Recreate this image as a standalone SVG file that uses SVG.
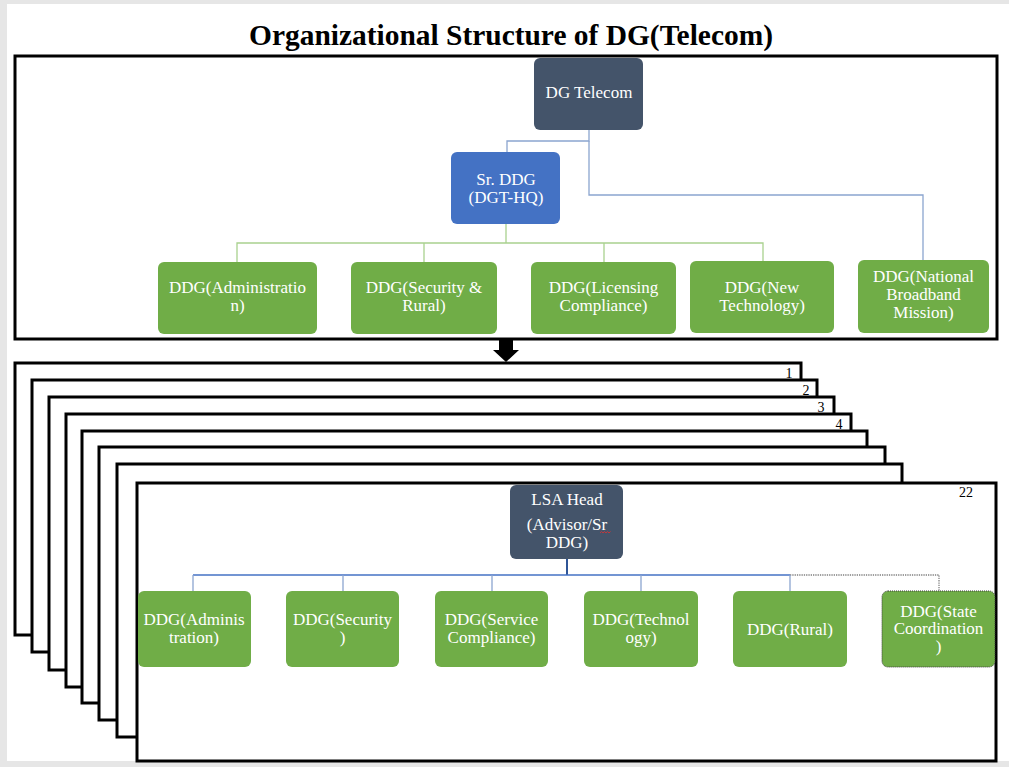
<svg xmlns="http://www.w3.org/2000/svg" width="1009" height="767" viewBox="0 0 1009 767">
<style>
.t{font-family:"Liberation Serif","DejaVu Serif",serif;font-size:17px;fill:#fff;text-anchor:middle}
.n{font-family:"Liberation Serif","DejaVu Serif",serif;font-size:14px;fill:#000;text-anchor:middle}
.frame{fill:#fff;stroke:#000;stroke-width:3}
.dark{fill:#44546A}
.blue{fill:#4472C4}
.green{fill:#70AD47}
.cb{fill:none;stroke:#8BA5CF;stroke-width:1.3}
.cg{fill:none;stroke:#A9D18E;stroke-width:1.3}
</style>
<rect x="0" y="0" width="1009" height="767" fill="#e6e6e6"/>
<rect x="7" y="4" width="1002" height="757" fill="#fff"/>
<text x="511" y="45" font-family="Liberation Serif,serif" font-weight="bold" font-size="30" text-anchor="middle" textLength="524" lengthAdjust="spacingAndGlyphs">Organizational Structure of DG(Telecom)</text>

<rect id="topFrame" class="frame" x="15" y="56" width="982" height="283"/>

<g id="connectors">
<polyline class="cb" points="589,130 589,141 507,141 507,152"/>
<polyline class="cb" points="589,141 589,195 923,195 923,260"/>
<polyline class="cg" points="506,224 506,243"/>
<polyline class="cg" points="237,262 237,243 763,243 763,261"/>
<line class="cg" x1="424" y1="243" x2="424" y2="262"/>
<line class="cg" x1="604" y1="243" x2="604" y2="262"/>
</g>

<g id="dg-telecom"><rect class="dark" x="534" y="58" width="109" height="72" rx="6"/><text class="t" x="589" y="98">DG Telecom</text></g>
<g id="sr-ddg"><rect class="blue" x="451" y="152" width="109" height="72" rx="6"/><text class="t" x="506" y="185">Sr. DDG</text><text class="t" x="506" y="203">(DGT-HQ)</text></g>
<g id="ddg-admin"><rect class="green" x="158" y="262" width="159" height="72" rx="6"/><text class="t" x="237.5" y="293">DDG(Administratio</text><text class="t" x="237.5" y="311">n)</text></g>
<g id="ddg-security-rural"><rect class="green" x="351" y="262" width="146" height="72" rx="6"/><text class="t" x="424" y="293">DDG(Security &amp;</text><text class="t" x="424" y="311">Rural)</text></g>
<g id="ddg-licensing"><rect class="green" x="531" y="262" width="145" height="72" rx="6"/><text class="t" x="603.5" y="293">DDG(Licensing</text><text class="t" x="603.5" y="311">Compliance)</text></g>
<g id="ddg-newtech"><rect class="green" x="690" y="261" width="144" height="72" rx="6"/><text class="t" x="762" y="293">DDG(New</text><text class="t" x="762" y="311">Technology)</text></g>
<g id="ddg-nbm"><rect class="green" x="858" y="260" width="131" height="73" rx="6"/><text class="t" x="923.5" y="282">DDG(National</text><text class="t" x="923.5" y="300">Broadband</text><text class="t" x="923.5" y="318">Mission)</text></g>

<polygon id="arrow" points="499,340 513,340 513,350 519,350 506,362 493,350 499,350" fill="#000"/>

<g id="stack">
<rect class="frame" x="15" y="363" width="786" height="272"/>
<text class="n" x="789" y="378">1</text>
<rect class="frame" x="32" y="380" width="785" height="272"/>
<text class="n" x="806" y="395">2</text>
<rect class="frame" x="49" y="397" width="785" height="273"/>
<text class="n" x="821" y="412">3</text>
<rect class="frame" x="66" y="414" width="785" height="273"/>
<text class="n" x="839" y="429">4</text>
<rect class="frame" x="82" y="431" width="785" height="272"/>
<rect class="frame" x="99" y="447" width="786" height="273"/>
<rect class="frame" x="117" y="464" width="785" height="273"/>
<rect class="frame" x="137" y="483" width="859" height="278"/>
<text class="n" x="966" y="497">22</text>
</g>

<g id="connectors-lsa">
<line x1="567" y1="559" x2="567" y2="575" stroke="#2F5597" stroke-width="2"/>
<line x1="193" y1="575" x2="790" y2="575" stroke="#4472C4" stroke-width="1.3"/>
<polyline points="790,575 939,575 939,591" fill="none" stroke="#808080" stroke-width="1.3" stroke-dasharray="1.3 1"/>
<line class="cb" x1="193" y1="575" x2="193" y2="591"/>
<line class="cb" x1="343" y1="575" x2="343" y2="591"/>
<line class="cb" x1="492" y1="575" x2="492" y2="591"/>
<line class="cb" x1="641" y1="575" x2="641" y2="591"/>
<line class="cb" x1="790" y1="575" x2="790" y2="591"/>
</g>

<g id="lsa-head"><rect class="dark" x="510" y="485" width="113" height="74" rx="6"/><text class="t" x="567" y="505">LSA Head</text><text class="t" x="567" y="530">(Advisor/Sr</text><text class="t" x="567" y="548">DDG)</text>
<polyline points="600,533 601.5,531.5 603,533 604.5,531.5 606,533 607.5,531.5 609,533 610.5,531.5" fill="none" stroke="#e03030" stroke-width="0.8"/></g>
<g id="lsa-admin"><rect class="green" x="138" y="591" width="113" height="76" rx="6"/><text class="t" x="194" y="625">DDG(Adminis</text><text class="t" x="194" y="643">tration)</text></g>
<g id="lsa-security"><rect class="green" x="286" y="591" width="113" height="76" rx="6"/><text class="t" x="342.5" y="625">DDG(Security</text><text class="t" x="342.5" y="643">)</text></g>
<g id="lsa-service"><rect class="green" x="435" y="591" width="113" height="76" rx="6"/><text class="t" x="491.5" y="625">DDG(Service</text><text class="t" x="491.5" y="643">Compliance)</text></g>
<g id="lsa-tech"><rect class="green" x="584" y="591" width="114" height="76" rx="6"/><text class="t" x="641" y="625">DDG(Technol</text><text class="t" x="641" y="643">ogy)</text></g>
<g id="lsa-rural"><rect class="green" x="733" y="591" width="114" height="76" rx="6"/><text class="t" x="790" y="635">DDG(Rural)</text></g>
<g id="lsa-state"><rect class="green" x="882" y="591" width="113" height="76" rx="6" stroke="#3a3a3a" stroke-width="1" stroke-dasharray="1 1"/><text class="t" x="938.5" y="617">DDG(State</text><text class="t" x="938.5" y="634">Coordination</text><text class="t" x="938.5" y="652">)</text></g>
</svg>
